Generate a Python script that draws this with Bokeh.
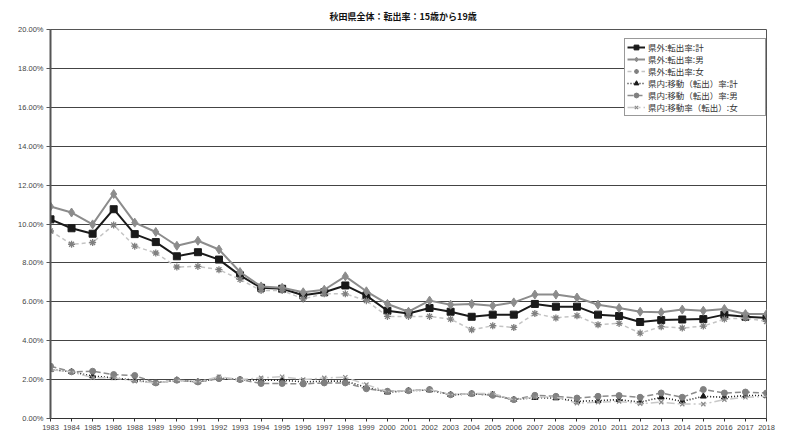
from bokeh.plotting import figure
from bokeh.models import (Range1d, FixedTicker, PrintfTickFormatter, Legend, LegendItem)
from bokeh.embed import file_html
from bokeh.resources import INLINE

# 秋田県全体：転出率（15歳から19歳）, 単位は %
years = ["1983", "1984", "1985", "1986", "1988", "1989", "1990", "1991", "1992", "1993",
         "1994", "1995", "1996", "1997", "1998", "1999", "2000", "2001", "2002", "2003",
         "2004", "2005", "2006", "2007", "2008", "2009", "2010", "2011", "2012", "2013",
         "2014", "2015", "2016", "2017", "2018"]

out_total = [10.24, 9.78, 9.50, 10.76, 9.48, 9.07, 8.34, 8.55, 8.17, 7.36,
             6.72, 6.67, 6.34, 6.49, 6.84, 6.32, 5.54, 5.40, 5.68, 5.49,
             5.23, 5.34, 5.34, 5.89, 5.75, 5.75, 5.34, 5.27, 4.96, 5.06,
             5.09, 5.11, 5.34, 5.23, 5.17]
out_male = [10.90, 10.59, 9.98, 11.54, 10.07, 9.59, 8.88, 9.14, 8.69, 7.53,
            6.79, 6.72, 6.49, 6.62, 7.31, 6.54, 5.89, 5.49, 6.06, 5.85,
            5.89, 5.80, 5.97, 6.37, 6.37, 6.22, 5.85, 5.68, 5.49, 5.46,
            5.60, 5.54, 5.63, 5.37, 5.37]
out_female = [9.64, 8.96, 9.05, 9.95, 8.86, 8.51, 7.79, 7.82, 7.65, 7.15,
              6.58, 6.58, 6.15, 6.41, 6.41, 6.06, 5.25, 5.25, 5.25, 5.11,
              4.56, 4.77, 4.68, 5.40, 5.17, 5.28, 4.82, 4.89, 4.39, 4.72,
              4.65, 4.75, 5.11, 5.17, 4.99]
in_total = [2.52, 2.40, 2.18, 2.09, 1.97, 1.83, 1.97, 1.88, 2.07, 2.00,
            1.97, 1.97, 1.88, 1.92, 1.92, 1.60, 1.35, 1.43, 1.46, 1.22,
            1.26, 1.22, 0.97, 1.07, 1.05, 0.88, 0.92, 0.97, 0.84, 1.09,
            0.88, 1.14, 1.09, 1.18, 1.18]
in_male = [2.69, 2.40, 2.43, 2.26, 2.21, 1.83, 1.97, 1.88, 2.05, 2.00,
           1.80, 1.80, 1.78, 1.83, 1.83, 1.53, 1.40, 1.43, 1.49, 1.22,
           1.28, 1.19, 0.97, 1.19, 1.14, 1.05, 1.14, 1.18, 1.09, 1.31,
           1.09, 1.49, 1.31, 1.36, 1.31]
in_female = [2.50, 2.40, 2.10, 2.10, 1.92, 1.83, 1.97, 1.88, 2.15, 2.00,
             2.09, 2.15, 2.00, 2.09, 2.12, 1.74, 1.40, 1.43, 1.49, 1.22,
             1.28, 1.28, 0.97, 1.10, 1.10, 0.79, 0.84, 0.88, 0.76, 0.84,
             0.74, 0.74, 0.97, 1.09, 1.14]

y_ticks = [0, 2, 4, 6, 8, 10, 12, 14, 16, 18, 20]

x = list(range(len(years)))

AXIS_FONT = "Liberation Sans"
JP_FONT = "Noto Sans CJK JP"

p = figure(width=786, height=438, output_backend="svg", toolbar_location=None,
           x_range=Range1d(0, len(years) - 1), y_range=Range1d(0, 20),
           min_border_left=50, min_border_right=20, min_border_top=29,
           min_border_bottom=20, background_fill_color="white",
           border_fill_color="white",
           title="秋田県全体：転出率：15歳から19歳")
p.outline_line_color = "#555555"
p.outline_line_width = 1

p.title.align = "left"
p.title.offset = 279
p.title.vertical_align = "top"
p.title.text_font = JP_FONT
p.title.text_font_size = "9px"
p.title.text_font_style = "bold"
p.title.text_color = "#111111"
p.title.standoff = 10

# axes
p.xaxis.ticker = FixedTicker(ticks=x)
p.xaxis.major_label_overrides = {i: y for i, y in enumerate(years)}
p.xaxis.major_label_text_font = AXIS_FONT
p.xaxis.major_label_text_font_size = "7.5px"
p.xaxis.major_label_text_color = "#444444"
p.xaxis.major_label_standoff = 3
p.xaxis.major_tick_out = 3
p.xaxis.major_tick_in = 0
p.xaxis.minor_tick_line_color = None
p.xaxis.axis_line_color = "#333333"
p.xaxis.major_tick_line_color = "#333333"

p.yaxis.ticker = FixedTicker(ticks=y_ticks)
p.yaxis.formatter = PrintfTickFormatter(format="%.2f%%")
p.yaxis.major_label_text_font = AXIS_FONT
p.yaxis.major_label_text_font_size = "7.5px"
p.yaxis.major_label_text_color = "#444444"
p.yaxis.major_label_standoff = 3
p.yaxis.major_tick_out = 4
p.yaxis.major_tick_in = 0
p.yaxis.minor_tick_line_color = None
p.yaxis.axis_line_color = "#555555"
p.yaxis.axis_line_width = 2
p.yaxis.major_tick_line_color = "#555555"

p.xgrid.grid_line_color = None
p.ygrid.grid_line_color = "#444444"
p.ygrid.grid_line_width = 1

# series
r1 = p.line(x, out_total, line_color="#1a1a1a", line_width=2)
m1 = p.scatter(x, out_total, marker="square", size=7, fill_color="#1a1a1a", line_color="#1a1a1a")

r2 = p.line(x, out_male, line_color="#8c8c8c", line_width=2)
m2 = p.scatter(x, out_male, marker="diamond", size=9, fill_color="#8c8c8c", line_color="#8c8c8c")

r3 = p.line(x, out_female, line_color="#c4c4c4", line_width=1.5, line_dash="4 3")
m3 = p.scatter(x, out_female, marker="asterisk", size=7, line_color="#808080", line_width=1.3)

r4 = p.line(x, in_total, line_color="#1a1a1a", line_width=1.6, line_dash="1 2")
m4 = p.scatter(x, in_total, marker="triangle", size=6, fill_color="#1a1a1a", line_color="#1a1a1a")

r5 = p.line(x, in_male, line_color="#8c8c8c", line_width=1.5, line_dash="6 3")
m5 = p.scatter(x, in_male, marker="circle", size=6, fill_color="#808080", line_color="#808080")

r6 = p.line(x, in_female, line_color="#c8c8c8", line_width=1.5, line_dash="8 3 2 3")
m6 = p.scatter(x, in_female, marker="x", size=6, line_color="#8a8a8a", line_width=1.2)

labels = ["県外:転出率:計", "県外:転出率:男", "県外:転出率:女",
          "県内:移動（転出）率:計", "県内:移動（転出）率:男", "県内:移動率（転出）:女"]
items = [LegendItem(label=lab, renderers=list(rs))
         for lab, rs in zip(labels, [(r1, m1), (r2, m2), (r3, m3), (r4, m4), (r5, m5), (r6, m6)])]

legend = Legend(items=items, location=(574, 302), orientation="vertical",
                label_text_font=JP_FONT, label_text_font_size="8.5px",
                label_text_color="#333333", label_height=12, label_width=115,
                glyph_width=18, glyph_height=12, label_standoff=3,
                spacing=0, padding=2, margin=0,
                border_line_color="#333333", border_line_width=1,
                background_fill_color="white", background_fill_alpha=1)
p.add_layout(legend)

open("out.html", "w").write(file_html(p, INLINE))
